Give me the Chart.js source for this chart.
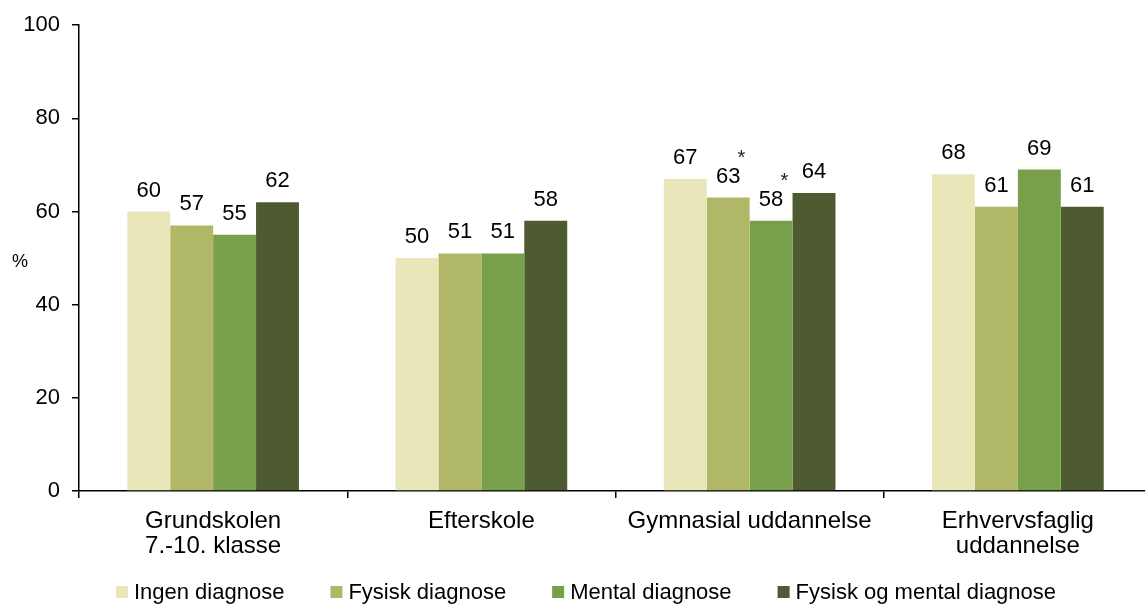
<!DOCTYPE html>
<html>
<head>
<meta charset="utf-8">
<script src="https://cdn.jsdelivr.net/npm/chart.js@4/dist/chart.umd.min.js"></script>
<style>
  html, body { margin: 0; padding: 0; background: #fff; overflow: hidden; }
  #wrap { width: 1152px; height: 604px; position: relative; }
</style>
</head>
<body>
<div id="wrap"><canvas id="chart"></canvas></div>
<script>
// Categories and series
const categories = [
  ["Grundskolen", "7.-10. klasse"],
  "Efterskole",
  "Gymnasial uddannelse",
  ["Erhvervsfaglig", "uddannelse"]
];
const seriesNames = ["Ingen diagnose", "Fysisk diagnose", "Mental diagnose", "Fysisk og mental diagnose"];
const ingenDiagnose = [60, 50, 67, 68];
const fysiskDiagnose = [57, 51, 63, 61];
const mentalDiagnose = [55, 51, 58, 69];
const fysiskOgMental = [62, 58, 64, 61];
// significance markers (*) per series
const starsFysisk = [false, false, true, false];
const starsMental = [false, false, true, false];
const yTicks = [0, 20, 40, 60, 80, 100];

const colors = ["#E9E7B9", "#B0B867", "#789F4A", "#4E5B31"];
const fontFamily = "'Liberation Sans', Arial, sans-serif";

const values = [ingenDiagnose, fysiskDiagnose, mentalDiagnose, fysiskOgMental];
const stars = [null, starsFysisk, starsMental, null];

// value labels above each bar, with optional asterisk
const valueLabels = {
  id: "valueLabels",
  afterDatasetsDraw(chart) {
    const ctx = chart.ctx;
    ctx.save();
    chart.data.datasets.forEach((ds, i) => {
      const meta = chart.getDatasetMeta(i);
      meta.data.forEach((bar, j) => {
        const text = String(ds.data[j]);
        ctx.font = "22px " + fontFamily;
        ctx.fillStyle = "#000";
        ctx.textAlign = "center";
        ctx.textBaseline = "alphabetic";
        const baseY = bar.y - 15;
        ctx.fillText(text, bar.x, baseY);
        if (stars[i] && stars[i][j]) {
          const w = ctx.measureText(text).width;
          ctx.font = "20px " + fontFamily;
          ctx.fillStyle = "#222";
          ctx.fillText("*", bar.x + w / 2 + 1, baseY - 19);
        }
      });
    });
    ctx.restore();
  }
};

// "%" unit beside the y axis
const unitLabel = {
  id: "unitLabel",
  afterDraw(chart) {
    const ctx = chart.ctx;
    const area = chart.chartArea;
    ctx.save();
    ctx.font = "18px " + fontFamily;
    ctx.fillStyle = "#000";
    ctx.textAlign = "center";
    ctx.textBaseline = "middle";
    ctx.fillText("%", 20, (area.top + area.bottom) / 2 + 4);
    ctx.restore();
  }
};

// single-row legend under the axis labels
const bottomLegend = {
  id: "bottomLegend",
  afterDraw(chart) {
    const ctx = chart.ctx;
    const box = 12, textGap = 6, itemGap = 46, cy = 592;
    ctx.save();
    ctx.font = "22px " + fontFamily;
    const items = chart.data.datasets.map(ds => ({
      text: ds.label,
      color: ds.backgroundColor,
      w: box + textGap + ctx.measureText(ds.label).width
    }));
    const total = items.reduce((s, it) => s + it.w, 0) + itemGap * (items.length - 1);
    let x = 586 - total / 2;
    ctx.textAlign = "left";
    ctx.textBaseline = "middle";
    items.forEach(it => {
      ctx.fillStyle = it.color;
      ctx.fillRect(x, cy - box / 2, box, box);
      ctx.fillStyle = "#000";
      ctx.fillText(it.text, x + box + textGap, cy + 1);
      x += it.w + itemGap;
    });
    ctx.restore();
  }
};

new Chart(document.getElementById("chart").getContext("2d"), {
  type: "bar",
  data: {
    labels: categories,
    datasets: seriesNames.map((name, i) => ({
      label: name,
      data: values[i],
      backgroundColor: colors[i],
      borderWidth: 0,
      categoryPercentage: 0.64,
      barPercentage: 1.0
    }))
  },
  options: {
    responsive: true,
    maintainAspectRatio: false,
    animation: false,
    layout: { padding: { left: 20, right: 0, top: 25, bottom: 38 } },
    plugins: {
      tooltip: { enabled: false },
      legend: { display: false }
    },
    scales: {
      x: {
        grid: { offset: true, drawOnChartArea: false, drawTicks: true, tickLength: 7, color: "#000", lineWidth: 1.5 },
        border: { color: "#000", width: 1.5 },
        ticks: { color: "#000", padding: 11, maxRotation: 0, font: { family: fontFamily, size: 24, lineHeight: 1.05 } },
        afterFit(scale) { scale.height = 75; }
      },
      y: {
        min: 0,
        max: 100,
        afterBuildTicks(scale) { scale.ticks = yTicks.map(v => ({ value: v })); },
        grid: { drawOnChartArea: false, drawTicks: true, tickLength: 7, color: "#000", lineWidth: 1.5 },
        border: { color: "#000", width: 1.5 },
        ticks: { color: "#000", padding: 12, font: { family: fontFamily, size: 22 } },
        afterFit(scale) { scale.width = 59; }
      }
    }
  },
  plugins: [valueLabels, unitLabel, bottomLegend]
});
</script>
</body>
</html>
